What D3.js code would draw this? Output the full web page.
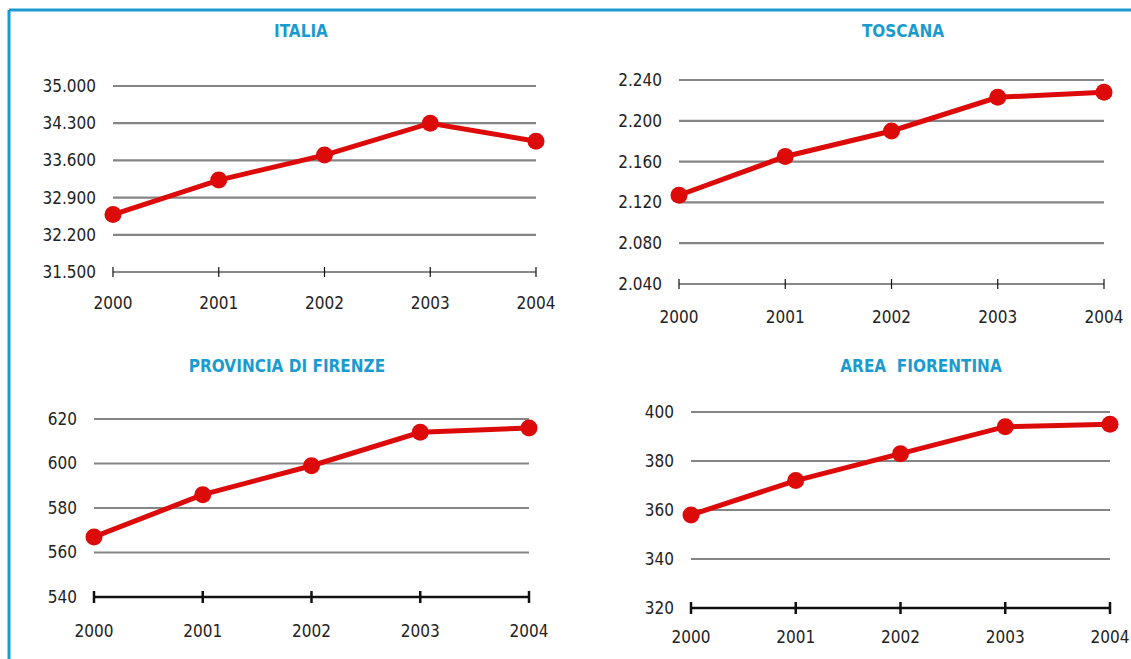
<!DOCTYPE html>
<html>
<head>
<meta charset="utf-8">
<script src="https://cdn.jsdelivr.net/npm/d3@7"></script>
<style>
  body { margin: 0; background: #fff; }
  text { font-family: "Liberation Sans Narrow", "DejaVu Sans Condensed", "Arial Narrow", sans-serif; }
</style>
</head>
<body>
<script>
const years = [2000, 2001, 2002, 2003, 2004];

const italia = [32580, 33230, 33700, 34300, 33960];
const italiaTicks = [31500, 32200, 32900, 33600, 34300, 35000];

const toscana = [2127, 2165, 2190, 2223, 2228];
const toscanaTicks = [2040, 2080, 2120, 2160, 2200, 2240];

const provincia = [567, 586, 599, 614, 616];
const provinciaTicks = [540, 560, 580, 600, 620];

const area = [358, 372, 383, 394, 395];
const areaTicks = [320, 340, 360, 380, 400];

const fmt = d => d3.format(",")(d).replace(/,/g, ".");

const svg = d3.select("body").append("svg")
  .attr("width", 1131)
  .attr("height", 659);

// blue frame (top + left)
svg.append("line").attr("x1", 9).attr("x2", 1131).attr("y1", 10).attr("y2", 10)
  .attr("stroke", "#1a9bd0").attr("stroke-width", 3);
svg.append("line").attr("x1", 9).attr("x2", 9).attr("y1", 10).attr("y2", 659)
  .attr("stroke", "#1a9bd0").attr("stroke-width", 3);

function panel(o) {
  const x = d3.scalePoint().domain(years).range([o.x0, o.x1]);
  const y = d3.scaleLinear().domain(d3.extent(o.ticks)).range([o.yb, o.yt]);
  const g = svg.append("g");

  g.append("text")
    .attr("x", o.tx).attr("y", o.ty)
    .attr("text-anchor", "middle")
    .attr("fill", "#1a9bd0")
    .attr("font-weight", "bold")
    .attr("font-size", 17)
    .style("white-space", "pre")
    .text(o.title);

  // gridlines
  g.selectAll(".grid").data(o.ticks.slice(1)).join("line")
    .attr("x1", o.x0).attr("x2", o.x1)
    .attr("y1", d => y(d)).attr("y2", d => y(d))
    .attr("stroke", "#858585").attr("stroke-width", 2.2);

  // y labels
  const ya = g.append("g")
    .attr("transform", `translate(${o.x0},0)`)
    .call(d3.axisLeft(y).tickValues(o.ticks).tickFormat(fmt).tickSize(0).tickPadding(17));
  ya.select(".domain").remove();
  ya.selectAll("text").attr("font-size", 17).attr("fill", "#222")
    .style("font-family", '"Liberation Sans Narrow", "DejaVu Sans Condensed", sans-serif');

  // x axis with ticks crossing the line
  g.append("line").attr("x1", o.x0).attr("x2", o.x1)
    .attr("y1", o.yb).attr("y2", o.yb)
    .attr("stroke", "#111").attr("stroke-width", o.aw);
  g.selectAll(".xt").data(years).join("line")
    .attr("x1", d => x(d)).attr("x2", d => x(d))
    .attr("y1", o.yb - o.tk).attr("y2", o.yb + o.tk)
    .attr("stroke", "#111").attr("stroke-width", o.aw);
  g.selectAll(".xl").data(years).join("text")
    .attr("x", d => x(d)).attr("y", o.yb + o.lx)
    .attr("text-anchor", "middle")
    .attr("font-size", 17).attr("fill", "#222")
    .text(d => d);

  // series
  const line = d3.line().x((d, i) => x(years[i])).y(d => y(d));
  g.append("path").datum(o.values)
    .attr("d", line)
    .attr("fill", "none").attr("stroke", "#dd0a0a").attr("stroke-width", 5);
  g.selectAll(".pt").data(o.values).join("circle")
    .attr("cx", (d, i) => x(years[i])).attr("cy", d => y(d))
    .attr("r", 8.5).attr("fill", "#dd0a0a");
}

panel({ title: "ITALIA", tx: 301, ty: 37, values: italia, ticks: italiaTicks,
  x0: 113, x1: 536, yt: 86, yb: 272, aw: 1.2, tk: 5, lx: 37 });
panel({ title: "TOSCANA", tx: 903, ty: 37, values: toscana, ticks: toscanaTicks,
  x0: 679, x1: 1104, yt: 80, yb: 284, aw: 1.2, tk: 5, lx: 39 });
panel({ title: "PROVINCIA DI FIRENZE", tx: 287, ty: 372, values: provincia, ticks: provinciaTicks,
  x0: 94, x1: 529, yt: 419, yb: 597, aw: 2.5, tk: 6, lx: 40 });
panel({ title: "AREA  FIORENTINA", tx: 921, ty: 372, values: area, ticks: areaTicks,
  x0: 691, x1: 1110, yt: 412, yb: 608, aw: 2.5, tk: 6, lx: 35 });
</script>
</body>
</html>
